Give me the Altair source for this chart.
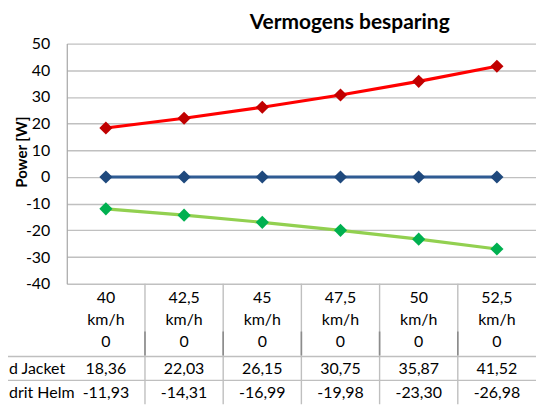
import altair as alt
import pandas as pd

speeds = ["40", "42,5", "45", "47,5", "50", "52,5"]
unit = "km/h"
series_keys = ["Referentie", "Jacket", "Helm"]
ref_vals = [0, 0, 0, 0, 0, 0]
jacket_vals = [18.36, 22.03, 26.15, 30.75, 35.87, 41.52]
helm_vals = [-11.93, -14.31, -16.99, -19.98, -23.30, -26.98]
row_labels = ["d Jacket", "drit Helm"]
chart_title = "Vermogens besparing"
y_title = "Power [W]"
y_ticks = [-40, -30, -20, -10, 0, 10, 20, 30, 40, 50]

line_colors = ["#2F5B93", "#FF0000", "#92D050"]
marker_colors = ["#1F497D", "#C00000", "#00B050"]
FONT = "Lato"

def fmt(v):
    return "0" if v == 0 else f"{v:.2f}".replace(".", ",")

rows = []
for key, vals in zip(series_keys, [ref_vals, jacket_vals, helm_vals]):
    for s, v in zip(speeds, vals):
        rows.append({"speed": s, "series": key, "value": v, "label": fmt(v)})
df = pd.DataFrame(rows)

xscale = alt.Scale(paddingInner=0, paddingOuter=0)
xenc = alt.X("speed:O", sort=speeds, scale=xscale, axis=None)
yaxis = alt.Axis(values=y_ticks, grid=True, gridColor="#C0C0C0", gridWidth=1.4,
                 domain=True, domainColor="#A6A6A6", domainWidth=1.2, ticks=False,
                 labelFontSize=16, labelPadding=17, labelColor="#000000",
                 labelFont=FONT, labelOverlap=False, labelExpr="'' + datum.value",
                 title=None)
yenc = alt.Y("value:Q", scale=alt.Scale(domain=[-40, 50], nice=False, zero=False), axis=yaxis)

lines = alt.Chart(df).mark_line(strokeWidth=3.2).encode(
    x=xenc, y=yenc,
    color=alt.Color("series:N", scale=alt.Scale(domain=series_keys, range=line_colors), legend=None),
    detail="series:N",
)
points = alt.Chart(df).mark_point(shape="diamond", filled=True, size=175, opacity=1).encode(
    x=xenc, y=yenc,
    fill=alt.Fill("series:N", scale=alt.Scale(domain=series_keys, range=marker_colors), legend=None),
)

# data table below the plot
spd_df = pd.DataFrame({"speed": speeds, "unit": [unit] * len(speeds)})
hdr1 = alt.Chart(spd_df).mark_text(fontSize=16, font=FONT, baseline="middle").encode(
    x=xenc, y=alt.value(255), text="speed:N")
hdr2 = alt.Chart(spd_df).mark_text(fontSize=16, font=FONT, baseline="middle").encode(
    x=xenc, y=alt.value(277), text="unit:N")
row_y = {"Referentie": 300, "Jacket": 327, "Helm": 351}
row_texts = []
for key in series_keys:
    row_texts.append(
        alt.Chart(df[df.series == key]).mark_text(fontSize=16, font=FONT, baseline="middle").encode(
            x=xenc, y=alt.value(row_y[key]), text="label:N"))

lab_df = pd.DataFrame({"lab": row_labels, "yy": [327, 351]})
row_lab = alt.Chart(lab_df).mark_text(fontSize=16, font=FONT, baseline="middle", align="left").encode(
    x=alt.value(-58), y=alt.Y("yy:Q", scale=None), text="lab:N")

xb = alt.X("speed:O", sort=speeds, bandPosition=0, scale=xscale, axis=None)
vrules = alt.Chart(spd_df[spd_df.speed != speeds[0]]).mark_rule(color="#BFBFBF", strokeWidth=1.4).encode(
    x=xb, y=alt.value(241), y2=alt.value(362))
vrules_dark = alt.Chart(spd_df[spd_df.speed != speeds[0]]).mark_rule(color="#8C8C8C", strokeWidth=1.6).encode(
    x=xb, y=alt.value(289), y2=alt.value(313))
hr_df = pd.DataFrame({"yy": [314, 338]})
hrules = alt.Chart(hr_df).mark_rule(color="#BFBFBF", strokeWidth=1.4).encode(
    x=alt.value(-67), x2=alt.value(471), y=alt.Y("yy:Q", scale=None))

title_txt = alt.Chart(pd.DataFrame({"t": [chart_title]})).mark_text(
    fontSize=21, fontWeight="bold", font=FONT, baseline="alphabetic", align="center").encode(
    x=alt.value(284), y=alt.value(-15), text="t:N")
ytitle_txt = alt.Chart(pd.DataFrame({"t": [y_title]})).mark_text(
    fontSize=15, fontWeight="bold", font=FONT, baseline="middle", align="center", angle=270).encode(
    x=alt.value(-45), y=alt.value(109), text="t:N")

chart = alt.layer(
    lines, points, vrules, vrules_dark, hrules, hdr1, hdr2, *row_texts, row_lab, title_txt, ytitle_txt
).properties(
    width=471, height=241,
    padding={"left": 59, "top": 35, "right": 0, "bottom": 121},
    autosize=alt.AutoSizeParams(type="none"),
).configure_view(stroke=None)

chart.save("out.html", embed_options={"renderer": "svg", "actions": False})
